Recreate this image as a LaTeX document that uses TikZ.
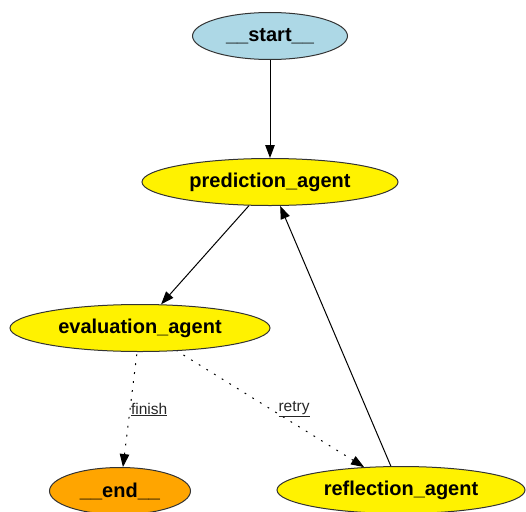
\documentclass[tikz,border=0pt]{standalone}
\usepackage{fontspec}
\setmainfont{Liberation Sans}
\usetikzlibrary{arrows.meta,shapes.geometric}
\definecolor{startblue}{HTML}{ADD8E6}
\definecolor{endorange}{HTML}{FFA500}
\definecolor{rim}{HTML}{333333}
\tikzset{
    %Define standard arrow tip
    >={Triangle[length=13pt,width=9.5pt]},
    agent/.style={
      ellipse,
      draw=rim, line width=1pt,
      fill=yellow,
      inner sep=0pt,
      minimum width=256pt,
      minimum height=47pt,
      font=\fontsize{20}{24}\selectfont\bfseries,
      text centered},
    terminal/.style={
      agent,
      minimum width=155pt},
    cond/.style={
      dash pattern=on 1.8pt off 7.2pt},
    lbl/.style={
      font=\fontsize{15.5}{18}\selectfont,
      text=black!85,
      inner sep=0.5pt},
}
\begin{document}
\begin{tikzpicture}[x=1pt, y=-1pt, line width=1pt]
    \clip (0,0) rectangle (526,511);
    \node (start) [terminal, fill=startblue] at (270,36)
          {\_\_start\_\_};
    \node (pred) [agent] at (270,182)
          {prediction\_agent}
          edge [<-] (start);
    \node (eval) [agent, minimum width=260pt] at (140,328)
          {evaluation\_agent}
          edge [<-] (pred);
    \node (end) [terminal, fill=endorange, minimum width=141pt] at (120,491)
          {\_\_end\_\_}
          edge [<-, cond] node [lbl, pos=0.5, anchor=west] {\underline{finish}} (eval);
    \node (refl) [agent, minimum width=248pt] at (401,490)
          {reflection\_agent}
          edge [<-, cond] node [lbl, pos=0.5, anchor=west, xshift=7pt] {\underline{retry}} (eval)
          edge [->] (pred);
\end{tikzpicture}
\end{document}
